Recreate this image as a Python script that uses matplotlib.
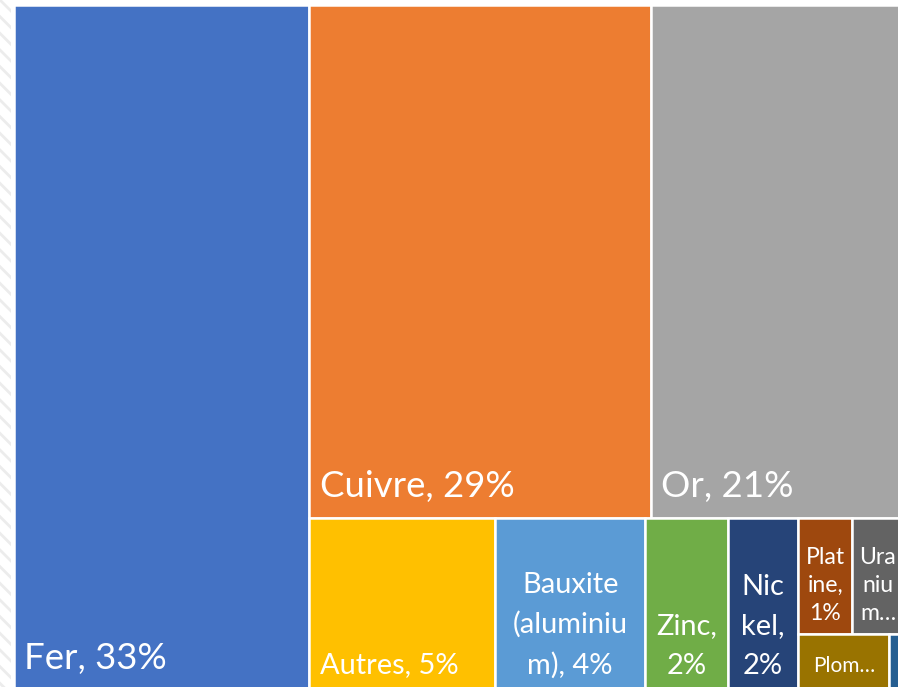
import matplotlib
matplotlib.use('Agg')
import matplotlib.pyplot as plt
from matplotlib.patches import Rectangle

# part des métaux dans la valeur de la production minière (%)
names = ['Fer', 'Cuivre', 'Or', 'Autres', 'Bauxite (aluminium)', 'Zinc', 'Nickel',
         'Platine', 'Uranium', 'Plomb', 'Autre']
values = [33.26, 28.74, 21.32, 5.22, 4.21, 2.33, 1.97, 1.03, 0.97, 0.83, 0.13]
colors = ['#4472C4', '#ED7D31', '#A5A5A5', '#FFC000', '#5B9BD5', '#70AD47',
          '#264478', '#9E480E', '#636363', '#997300', '#255E91']
# labels as Excel wraps / truncates them in the small boxes
labels = ['Fer, 33%', 'Cuivre, 29%', 'Or, 21%', 'Autres, 5%', 'Bauxite\n(aluminiu\nm), 4%',
          'Zinc,\n2%', 'Nic\nkel,\n2%', 'Plat\nine,\n1%', 'Ura\nniu\nm…', 'Plom…', '']

# nesting of the treemap (indices into the lists above), split direction alternates x / y
tree = [0, [[1, 2], [3, 4, 5, 6, [[7, 8], [9, 10]]]]]

# text style per box
font_pt = [26.4, 26.4, 26.4, 20.9, 20.9, 20.9, 20.9, 16.6, 16.6, 15, 15]
aligns = ['left', 'left', 'left', 'left', 'center', 'center', 'center', 'center', 'center', 'center', 'center']
pads = [15, 15, 15, 11, 11, 11, 11, 10, 10, 14, 14]
spacing = [1.2, 1.2, 1.2, 1.2, 1.62, 1.62, 1.62, 1.42, 1.42, 1.2, 1.2]


def total(node):
    if isinstance(node, int):
        return values[node]
    return sum(total(c) for c in node)


def layout(node, x, y, w, h, depth, out):
    if isinstance(node, int):
        out[node] = (x, y, w, h)
        return
    tot = total(node)
    for child in node:
        frac = total(child) / tot
        if depth % 2 == 0:
            layout(child, x, y, w * frac, h, depth + 1, out)
            x += w * frac
        else:
            layout(child, x, y, w, h * frac, depth + 1, out)
            y += h * frac


plt.rcParams['font.family'] = ['Lato', 'DejaVu Sans']
plt.rcParams['hatch.linewidth'] = 2.0

fig = plt.figure(figsize=(8.98, 6.87), dpi=100)
ax = fig.add_axes([0, 0, 1, 1])
ax.set_xlim(0, 898)
ax.set_ylim(687, 0)
ax.axis('off')

# hatched strip on the left (worksheet edge)
ax.add_patch(Rectangle((0, 0), 11, 687, facecolor='white', edgecolor='#ececec',
                       hatch='\\\\', linewidth=0))

rects = {}
layout(tree, 13.5, 4.5, 890, 685, 0, rects)

for i in range(len(values)):
    x, y, w, h = rects[i]
    ax.add_patch(Rectangle((x, y), w, h, facecolor=colors[i], edgecolor='white', linewidth=1.8))
    if not labels[i]:
        continue
    tx = x + 10.5 if aligns[i] == 'left' else x + w / 2
    ax.text(tx, y + h - pads[i], labels[i], color='white', fontsize=font_pt[i],
            ha=aligns[i], va='bottom', multialignment='center', linespacing=spacing[i])

fig.savefig('out.png', dpi=100)
